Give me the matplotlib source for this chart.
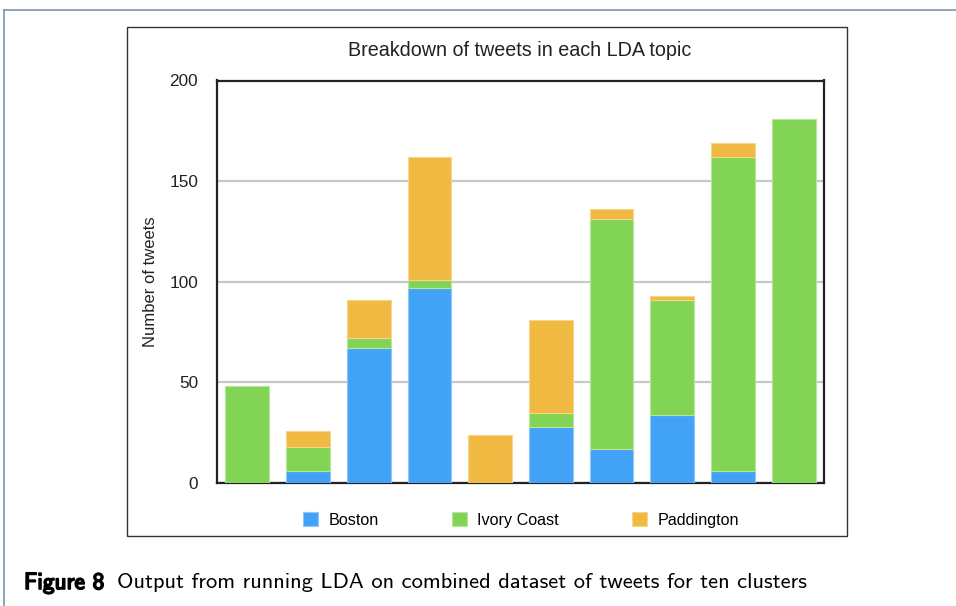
import matplotlib
matplotlib.use("Agg")
import matplotlib.pyplot as plt
import numpy as np
from matplotlib.patches import Rectangle, Patch
from matplotlib.lines import Line2D
import matplotlib.patheffects as pe

topics = list(range(1, 11))
boston = [0, 6, 67, 97, 0, 28, 17, 34, 6, 0]
ivory_coast = [48, 12, 5, 4, 0, 7, 114, 57, 156, 181]
paddington = [0, 8, 19, 61, 24, 46, 5, 2, 7, 0]
series_names = ["Boston", "Ivory Coast", "Paddington"]
yticks = [0, 50, 100, 150, 200]

colors = ["#42A2F6", "#82D455", "#F0BA42"]
edges = ["#8EC8FA", "#B5E79A", "#F7D58A"]

W, H = 956, 606
fig = plt.figure(figsize=(W / 100, H / 100), dpi=100)
fig.patch.set_facecolor("white")

def fx(x): return x / W
def fy(y): return 1 - y / H

# outer frame lines
fig.add_artist(Line2D([fx(4), 1.0], [fy(10), fy(10)], color="#7C93AE", lw=1.2, transform=fig.transFigure))
fig.add_artist(Line2D([fx(4), fx(4)], [fy(10), 0.0], color="#7C93AE", lw=1.2, transform=fig.transFigure))

# chart box
fig.add_artist(Rectangle((fx(127), fy(536)), fx(847) - fx(127), fy(27) - fy(536),
                         transform=fig.transFigure, fill=False, edgecolor="#333333", lw=1.0))

ax = fig.add_axes([fx(217), fy(483), fx(824) - fx(217), fy(80.5) - fy(483)])
x = np.arange(len(topics))
bottom = np.zeros(len(topics))
for vals, c, e, name in zip([boston, ivory_coast, paddington], colors, edges, series_names):
    v = np.array(vals, dtype=float)
    lws = [0.8 if val > 0 else 0.0 for val in v]
    ax.bar(x, v, bottom=bottom, width=0.72, color=c, edgecolor=e, linewidth=lws, label=name, zorder=3)
    bottom += v

ax.set_xlim(-0.5, len(topics) - 0.5)
ax.set_ylim(0, 200)
ax.set_yticks(yticks)
ax.set_yticklabels([str(t) for t in yticks], fontsize=12.4, family="Liberation Sans", color="#222222")
ax.set_xticks([])
ax.tick_params(axis="y", length=0, pad=13.5)
ax.yaxis.grid(True, color="#C8C8C8", lw=1.6, zorder=0)
for s in ax.spines.values():
    s.set_linewidth(1.6)
    s.set_color("#222222")
ax.set_ylabel("Number of tweets", fontsize=12, family="Liberation Sans", color="#222222", labelpad=8)

fig.text(fx(520), fy(50), "Breakdown of tweets in each LDA topic", ha="center", va="center",
         fontsize=14.2, family="Liberation Sans", color="#222222")

handles = [Patch(facecolor=c, edgecolor=e, lw=0.8) for c, e in zip(colors, edges)]
fig.legend(handles, series_names, loc="center", bbox_to_anchor=(fx(521), fy(520)), ncol=3,
           frameon=False, prop={"family": "Liberation Sans", "size": 11.6},
           handlelength=0.95, handleheight=0.95, handletextpad=0.65, columnspacing=4.5)

fig.text(fx(24), fy(583), "Figure 8", ha="left", va="center", fontsize=16.8, family="cmss10",
         color="black", path_effects=[pe.withStroke(linewidth=1.2, foreground="black")])
fig.text(fx(117), fy(583), "Output from running LDA on combined dataset of tweets for ten clusters",
         ha="left", va="center", fontsize=16.2, family="cmss10", color="black")

fig.savefig("out.png", dpi=100)
